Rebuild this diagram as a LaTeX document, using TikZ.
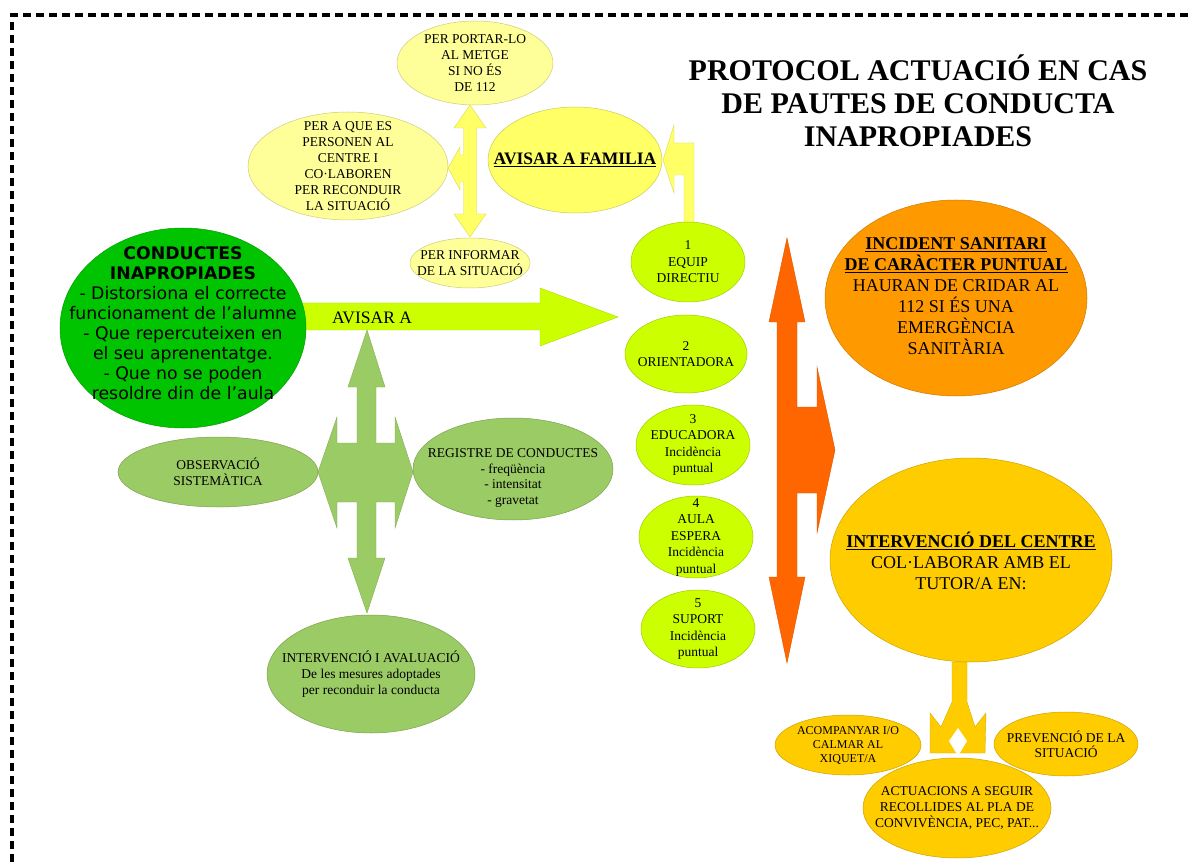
\documentclass[tikz,border=0pt]{standalone}
\usepackage{fontspec}
\setmainfont{Liberation Serif}
\newfontfamily\vsans{DejaVu Sans}
\usetikzlibrary{shapes.geometric}
\definecolor{paleY}{HTML}{FFFF99}
\definecolor{brY}{HTML}{FFFF66}
\definecolor{bigG}{HTML}{00C400}
\definecolor{limeG}{HTML}{CCFF00}
\definecolor{sageG}{HTML}{9BCB64}
\definecolor{orA}{HTML}{FF6600}
\definecolor{orB}{HTML}{FF9900}
\definecolor{gold}{HTML}{FFCC00}
\tikzset{
  ell/.style={ellipse, inner sep=0pt, line width=0.5pt, fill=#1, draw=#1!80!black},
  txt/.style={align=center, inner sep=0pt, text=black},
  small/.style={font=\fontsize{13.5}{16}\selectfont},
  big/.style={font=\fontsize{18}{21}\selectfont},
  blockarrow/.style={fill=#1, draw=#1!85!black, line width=0.4pt, line join=miter}
}
\begin{document}
\begin{tikzpicture}[x=1pt,y=-1pt]
\useasboundingbox (0,0) rectangle (1191,866);
\fill[white] (0,0) rectangle (1191,866);
% border
\draw[line width=4pt, dash pattern=on 8pt off 5pt] (12,862) -- (12,15) -- (1191,15);

% title
\node[txt, font=\fontsize{30}{33}\selectfont\bfseries] (title) at (918,101)
  {PROTOCOL ACTUACIÓ EN CAS\\DE PAUTES DE CONDUCTA\\INAPROPIADES};

% ---------- block arrows ----------
% yellow cross near family
\path[blockarrow=brY] (470,105) -- (486,128) -- (476.5,128) -- (476.5,214) -- (486,214) -- (470,237)
  -- (454,214) -- (463.5,214) -- (463.5,182) -- (460,182) -- (460,190) -- (448,168) -- (460,147)
  -- (460,155) -- (463.5,155) -- (463.5,128) -- (454,128) -- cycle;
% yellow bent arrow from equip directiu to family
\path[blockarrow=brY] (663,160) -- (674,125) -- (674,143) -- (694,143) -- (694,226) -- (684,226)
  -- (684,175) -- (674,175) -- (674,193) -- cycle;
% lime arrow AVISAR A
\path[blockarrow=limeG] (290,303) -- (540,303) -- (540,288) -- (618,317) -- (540,346) -- (540,330)
  -- (290,330) -- cycle;
% sage cross
\path[blockarrow=sageG] (367,330) -- (385,387) -- (376,387) -- (376,443) -- (395,443) -- (395,417)
  -- (413,472) -- (395,528) -- (395,502) -- (376,502) -- (376,558) -- (385,558) -- (367,613)
  -- (348,558) -- (357,558) -- (357,502) -- (337,502) -- (337,528) -- (318,472) -- (337,417)
  -- (337,443) -- (357,443) -- (357,387) -- (348,387) -- cycle;
% orange arrow
\path[blockarrow=orA] (787,238) -- (805,322) -- (797,322) -- (797,407) -- (817,407) -- (817,367)
  -- (835,450) -- (817,533) -- (817,493) -- (797,493) -- (797,577) -- (805,577) -- (787,663)
  -- (769,577) -- (777,577) -- (777,322) -- (769,322) -- cycle;
% gold fork
\path[blockarrow=gold] (952,662) -- (967,662) -- (967,702) -- (975,727) -- (986,713) -- (985,753)
  -- (930,753) -- (930,713) -- (941,727) -- (952,702) -- cycle;
\fill[white] (958,728) -- (967,741) -- (958,756) -- (949,741) -- cycle;

% ---------- ellipses ----------
\node[ell=paleY, minimum width=156pt, minimum height=84pt] (pport) at (475,63) {};
\node[ell=paleY, minimum width=200pt, minimum height=108pt] (pque) at (348,166) {};
\node[ell=brY, minimum width=174pt, minimum height=106pt] (fam) at (575,160) {};
\node[ell=paleY, minimum width=120pt, minimum height=50pt] (pinf) at (470,263) {};
\node[ell=bigG, minimum width=246pt, minimum height=200pt] (cond) at (183,328) {};
\node[ell=limeG, minimum width=114pt, minimum height=80pt] (e1) at (688,262) {};
\node[ell=limeG, minimum width=122pt, minimum height=78pt] (e2) at (686,354) {};
\node[ell=limeG, minimum width=114pt, minimum height=80pt] (e3) at (693,445) {};
\node[ell=limeG, minimum width=114pt, minimum height=82pt] (e4) at (696,537) {};
\node[ell=limeG, minimum width=114pt, minimum height=78pt] (e5) at (698,629) {};
\node[ell=sageG, minimum width=200pt, minimum height=70pt] (obs) at (218,472) {};
\node[ell=sageG, minimum width=200pt, minimum height=102pt] (reg) at (513,469) {};
\node[ell=sageG, minimum width=208pt, minimum height=118pt] (intv) at (371,674) {};
\node[ell=orB, minimum width=262pt, minimum height=196pt] (inc) at (956,298) {};
\node[ell=gold, minimum width=282pt, minimum height=204pt] (cen) at (971,560) {};
\node[ell=gold, minimum width=146pt, minimum height=60pt] (aco) at (848,745) {};
\node[ell=gold, minimum width=144pt, minimum height=64pt] (prev) at (1066,744) {};
\node[ell=gold, minimum width=188pt, minimum height=100pt] (act) at (957,808) {};

% ---------- texts ----------
\node[txt, small] (tpport) at (pport) {PER PORTAR-LO\\AL METGE\\SI NO ÉS\\DE 112};
\node[txt, small] (tpque) at (pque) {PER A QUE ES\\PERSONEN AL\\CENTRE I\\CO·LABOREN\\PER RECONDUIR\\LA SITUACIÓ};
\node[txt, font=\fontsize{17.5}{20}\selectfont\bfseries] (tfam) at (fam) {\underline{AVISAR A FAMILIA}};
\node[txt, small] (tpinf) at (pinf) {PER INFORMAR\\DE LA SITUACIÓ};
\node[txt, font=\vsans\fontsize{17.3}{20}\selectfont] (tcond) at (183,323)
  {\textbf{CONDUCTES}\\\textbf{INAPROPIADES}\\- Distorsiona el correcte\\funcionament de l’alumne\\- Que repercuteixen en\\el seu aprenentatge.\\- Que no se poden\\resoldre din de l’aula};
\node[txt, font=\fontsize{17.5}{20}\selectfont] (tavis) at (372,318) {AVISAR A};
\node[txt, font=\fontsize{13.5}{16.5}\selectfont] (te1) at (e1) {1\\EQUIP\\DIRECTIU};
\node[txt, font=\fontsize{13.5}{16.5}\selectfont] (te2) at (e2) {2\\ORIENTADORA};
\node[txt, font=\fontsize{13.5}{16.5}\selectfont] (te3) at (e3) {3\\EDUCADORA\\Incidència\\puntual};
\node[txt, font=\fontsize{13.5}{16.5}\selectfont] (te4) at (e4) {4\\AULA\\ESPERA\\Incidència\\puntual};
\node[txt, font=\fontsize{13.5}{16.5}\selectfont] (te5) at (e5) {5\\SUPORT\\Incidència\\puntual};
\node[txt, font=\fontsize{13.5}{16}\selectfont] (tobs) at (obs) {OBSERVACIÓ\\SISTEMÀTICA};
\node[txt, font=\fontsize{13.5}{15.5}\selectfont] (treg) at (513,478) {REGISTRE DE CONDUCTES\\- freqüència\\- intensitat\\- gravetat};
\node[txt, font=\fontsize{13.5}{16}\selectfont] (tintv) at (intv) {INTERVENCIÓ I AVALUACIÓ\\De les mesures adoptades\\per reconduir la conducta};
\node[txt, big] (tinc) at (956,296) {\textbf{\underline{INCIDENT SANITARI}}\\\textbf{\underline{DE CARÀCTER PUNTUAL}}\\HAURAN DE CRIDAR AL\\112 SI ÉS UNA\\EMERGÈNCIA\\SANITÀRIA};
\node[txt, big] (tcen) at (971,561) {\textbf{\underline{INTERVENCIÓ DEL CENTRE}}\\COL·LABORAR AMB EL\\TUTOR/A EN:};
\node[txt, font=\fontsize{12}{14}\selectfont] (taco) at (aco) {ACOMPANYAR I/O\\CALMAR AL\\XIQUET/A};
\node[txt, font=\fontsize{13.5}{15}\selectfont] (tprev) at (prev) {PREVENCIÓ DE LA\\SITUACIÓ};
\node[txt, font=\fontsize{13.5}{16}\selectfont] (tact) at (act) {ACTUACIONS A SEGUIR\\RECOLLIDES AL PLA DE\\CONVIVÈNCIA, PEC, PAT...};
\end{tikzpicture}
\end{document}
